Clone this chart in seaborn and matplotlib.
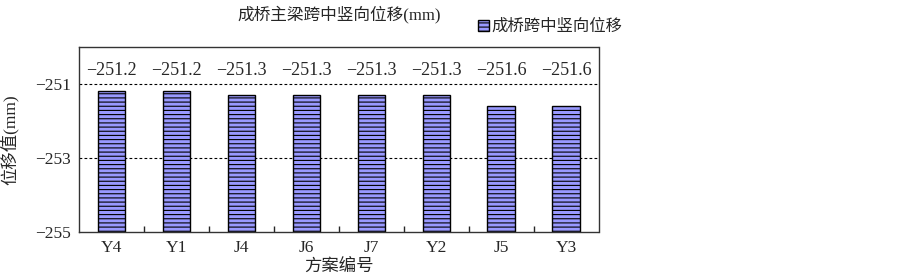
import numpy as np
import pandas as pd
import matplotlib
matplotlib.use("Agg")
import matplotlib.pyplot as plt
import matplotlib.patches as mpatches
from matplotlib.ticker import FixedLocator
import seaborn as sns

schemes = ["Y4", "Y1", "J4", "J6", "J7", "Y2", "J5", "Y3"]
displacement = [-251.2, -251.2, -251.3, -251.3, -251.3, -251.3, -251.6, -251.6]
value_labels = ["-251.2", "-251.2", "-251.3", "-251.3", "-251.3", "-251.3", "-251.6", "-251.6"]
y_ticks = [-255, -253, -251]
y_min, y_max = -255, -250
series_name = "成桥跨中竖向位移"

sns.set_style("white")
plt.rcParams["font.family"] = ["Liberation Serif", "Noto Sans CJK SC", "DejaVu Sans"]
plt.rcParams["axes.unicode_minus"] = True
plt.rcParams["hatch.linewidth"] = 0.8
plt.rcParams["hatch.color"] = "black"

df = pd.DataFrame({"scheme": schemes, "disp": displacement})

fig = plt.figure(figsize=(9, 2.77), dpi=100)
ax = fig.add_axes([0.088, 0.162, 0.577, 0.668])

sns.barplot(data=df, x="scheme", y="disp", color="#9999ff", saturation=1,
            width=0.42, edgecolor="black", linewidth=1.0, ax=ax)

# bars rise from the bottom of the value axis, as in the original chart
for p, v in zip(ax.patches, displacement):
    p.set_y(y_min)
    p.set_height(v - y_min)
    p.set_hatch("----")

ax.set_ylim(y_min, y_max)
ax.set_xlim(-0.5, len(schemes) - 0.5)
ax.set_yticks(y_ticks)
ax.set_yticklabels([f"\u2212{abs(t)}" for t in y_ticks])

for t in [-253, -251]:
    ax.axhline(t, color="black", linestyle=(0, (2.5, 2)), linewidth=0.8, zorder=0)

for i, lab in enumerate(value_labels):
    ax.text(i, -250.62, lab.replace("-", "\u2212"), ha="center", va="center", fontsize=13)

ax.xaxis.set_minor_locator(FixedLocator(np.arange(0.5, len(schemes) - 1, 1.0)))
ax.tick_params(axis="x", which="major", length=0, labelsize=12.5, pad=6)
ax.tick_params(axis="x", which="minor", direction="in", length=4, width=1, bottom=True)
ax.tick_params(axis="y", which="major", direction="in", length=3, labelsize=12.5, pad=6)

for s in ax.spines.values():
    s.set_color("#333333")
    s.set_linewidth(1.0)

ax.set_xlabel("方案编号", fontsize=12.5, labelpad=2)
ax.set_ylabel("位移值(mm)", fontsize=12.5, labelpad=12)
ax.set_title("成桥主梁跨中竖向位移(mm)", fontsize=12, pad=20)

handle = mpatches.Patch(facecolor="#9999ff", edgecolor="black", hatch="----", label=series_name)
ax.legend(handles=[handle], loc="lower left", bbox_to_anchor=(0.755, 1.03), frameon=False,
          fontsize=11.8, handlelength=0.7, handleheight=0.7, handletextpad=0.1, borderaxespad=0)

fig.savefig("out.png", dpi=100)
